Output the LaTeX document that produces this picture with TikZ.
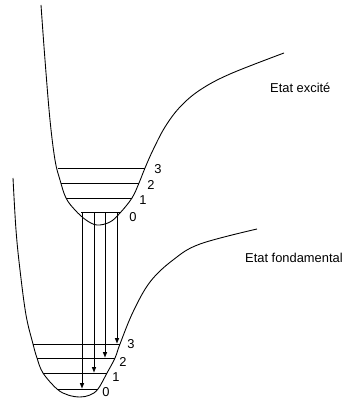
\documentclass[tikz,border=0pt]{standalone}
\usepackage{fontspec}
\setmainfont{Liberation Sans}
\usetikzlibrary{arrows.meta,positioning}
\tikzset{
  curve/.style={line width=0.75pt,black},
  lvl/.style={line width=0.75pt,black},
  num/.style={font=\fontsize{11}{13}\selectfont,inner sep=0pt},
  etat/.style={font=\fontsize{11}{13}\selectfont,inner sep=0pt,anchor=west},
  trans/.style={-{Latex[length=5pt,width=4pt]},line width=0.75pt},
}

\begin{document}
\begin{tikzpicture}[x=0.03cm,y=-0.03cm]
  \useasboundingbox (0,0) rectangle (348,403);

  % excited state potential
  \draw[curve] plot[smooth,tension=0.6] coordinates {(41,5) (45,60) (50,120) (55,160) (60,180) (66,198) (75,210) (86,220) (97,225) (110,222) (120,213) (132,198) (139,183) (145,168) (153,150) (165,127) (180,107) (200,90) (230,74) (284,53)};
  % ground state potential
  \draw[curve] plot[smooth,tension=0.6] coordinates {(13,178) (16,230) (20,270) (26,315) (33,344) (37,358) (43,373) (57,389) (68,395) (80,397) (90,395) (98,389) (107,373) (115,358) (120,344) (133,312) (150,282) (173,260) (200,244) (257,229)};

  % vibrational levels, excited state
  \coordinate (u0l) at (81,212);  \coordinate (u0r) at (121,212);
  \coordinate (u1l) at (66,198);  \coordinate (u1r) at (132,198);
  \coordinate (u2l) at (61,183);  \coordinate (u2r) at (139,183);
  \coordinate (u3l) at (58,168);  \coordinate (u3r) at (145,168);
  % vibrational levels, ground state
  \coordinate (g0l) at (57,389);  \coordinate (g0r) at (98,389);
  \coordinate (g1l) at (43,373);  \coordinate (g1r) at (107,373);
  \coordinate (g2l) at (37,358);  \coordinate (g2r) at (115,358);
  \coordinate (g3l) at (33,344);  \coordinate (g3r) at (120,344);

  \foreach \i in {0,...,3} {
    \draw[lvl] (u\i l) -- (u\i r);
    \draw[lvl] (g\i l) -- (g\i r);
  }

  \node[num] (nu0) at (133,217) {0};
  \node[num] (nu1) at (143,200) {1};
  \node[num] (nu2) at (151,185) {2};
  \node[num] (nu3) at (158,169) {3};
  \node[num] (ng0) at (106,392) {0};
  \node[num] (ng1) at (116,377) {1};
  \node[num] (ng2) at (123,362) {2};
  \node[num] (ng3) at (131,344) {3};

  % transitions 0 -> v
  \coordinate (a0) at (82,212);  \coordinate (b0) at (82,389);
  \coordinate (a1) at (94,212);  \coordinate (b1) at (94,373);
  \coordinate (a2) at (105,212); \coordinate (b2) at (105,358);
  \coordinate (a3) at (117,212); \coordinate (b3) at (117,344);
  \foreach \i in {0,...,3}
    \draw[trans] (a\i) -- (b\i);

  \node[etat] (exc) at (270,88) {Etat excité};
  \node[etat] (fond) at (245,258) {Etat fondamental};
\end{tikzpicture}
\end{document}
